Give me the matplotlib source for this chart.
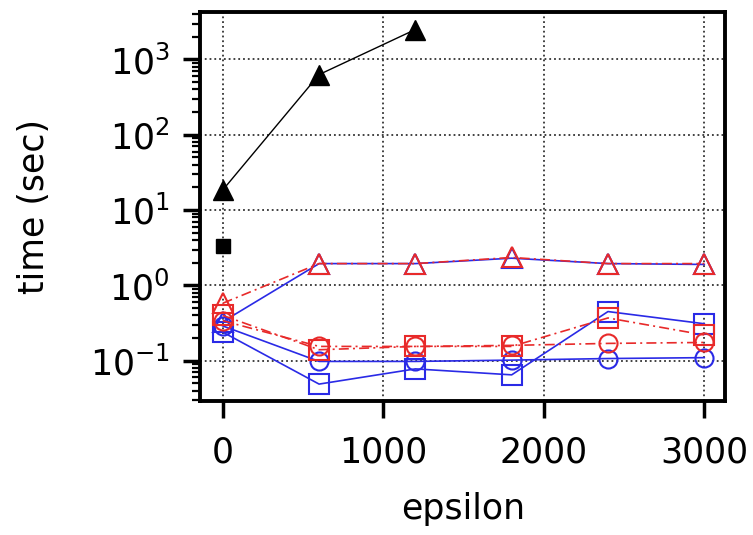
import numpy as np
import matplotlib.pyplot as plt

# epsilon values
eps = [0, 600, 1200, 1800, 2400, 3000]
eps_black = [0, 600, 1200]

# black (reference) series
black_tri = [18.5, 630, 2500]
black_sq_x = [0]
black_sq = [3.3]

# blue (solid) series
blue_tri = [0.33, 1.95, 1.95, 2.3, 1.95, 1.9]
blue_sq = [0.24, 0.049, 0.078, 0.065, 0.45, 0.31]
blue_circ = [0.29, 0.098, 0.098, 0.102, 0.107, 0.11]

# red (dash-dot) series
red_tri = [0.58, 1.95, 1.95, 2.35, 1.95, 1.95]
red_sq = [0.40, 0.14, 0.155, 0.155, 0.37, 0.22]
red_circ = [0.34, 0.155, 0.155, 0.16, 0.17, 0.175]

fig = plt.figure(figsize=(7.53, 5.35), dpi=100)
ax = fig.add_axes([0.266, 0.25, 0.697, 0.728])

ax.plot(eps_black, black_tri, 'k-', marker='^', ms=15, lw=1)
ax.plot(black_sq_x, black_sq, 'ks', ms=10)

blue = '#2a2ae6'
red = '#e82a2a'
mk = dict(mfc='none', mew=1.5, lw=1.2)
dd = (6, 2.5, 1.2, 2.5)
ax.plot(eps, blue_tri, '-', color=blue, marker='^', ms=14, **mk)
ax.plot(eps, blue_sq, '-', color=blue, marker='s', ms=14, **mk)
ax.plot(eps, blue_circ, '-', color=blue, marker='o', ms=13, **mk)
ax.plot(eps, red_tri, '-.', color=red, marker='^', ms=14, dashes=dd, **mk)
ax.plot(eps, red_sq, '-.', color=red, marker='s', ms=14, dashes=dd, **mk)
ax.plot(eps, red_circ, '-.', color=red, marker='o', ms=13, dashes=dd, **mk)

ax.set_yscale('log')
ax.set_ylim(0.029, 4300)
ax.set_xlim(-140, 3130)
ax.set_xticks([0, 1000, 2000, 3000])
ax.set_yticks([0.1, 1, 10, 100, 1000])

ax.grid(True, which='major', color='#333333', linestyle=':', lw=1.3)
for s in ax.spines.values():
    s.set_linewidth(2.8)
ax.tick_params(which='major', length=12, width=2.5, labelsize=25)
ax.tick_params(axis='x', which='major', pad=13)
ax.tick_params(axis='y', which='major', pad=10)
ax.tick_params(which='minor', length=6, width=1.6)

ax.set_xlabel('epsilon', fontsize=25, labelpad=16)
ax.set_ylabel('time (sec)', fontsize=25, labelpad=28)

fig.savefig('out.png', dpi=100)
